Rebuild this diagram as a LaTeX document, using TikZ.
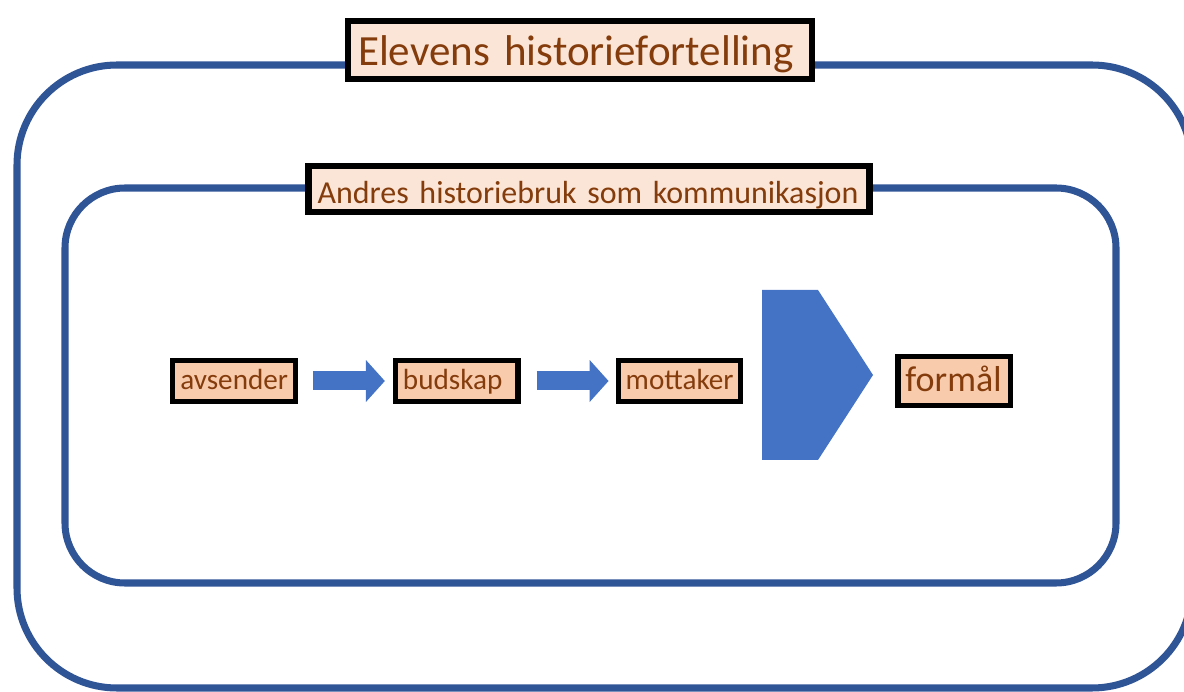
\documentclass[tikz,border=0pt]{standalone}
\usepackage{fontspec}
\setmainfont{Carlito}
\usetikzlibrary{positioning,arrows.meta}
\definecolor{frameblue}{HTML}{2F5597}
\definecolor{arrowblue}{HTML}{4472C4}
\definecolor{lightpeach}{HTML}{FBE5D6}
\definecolor{peach}{HTML}{F8CBAD}
\definecolor{textbrown}{HTML}{843C0C}
\begin{document}
\begin{tikzpicture}[x=0.02cm, y=-0.02cm, node distance=1.9cm,
    frame/.style={draw=frameblue, line width=4pt},
    labelbox/.style={draw=black, line width=3.5pt, fill=lightpeach, text=textbrown, inner ysep=0pt, align=left,
      text depth=0pt},
    word/.style={draw=black, line width=3pt, fill=peach, text=textbrown, inner ysep=0pt, inner xsep=0.15cm,
      text width=2.15cm, align=left, minimum height=0.81cm, text height=10.2pt, text depth=0pt,
      font=\fontsize{16.6}{18}\selectfont},
    blockarrow/.style={draw=arrowblue, line width=0.38cm, -{Triangle[length=0.38cm, width=0.82cm]}}]
  \useasboundingbox (0,0) rectangle (1184,692);
  % frames
  \draw[frame, rounded corners=2cm] (17,65) rectangle (1192,688);
  \draw[frame, rounded corners=1.2cm] (65,188) rectangle (1116,583);
  \node[labelbox, inner xsep=0.2cm, text width=8.88cm, minimum height=1.16cm, text height=17.6pt,
    font=\fontsize{24.5}{28}\selectfont] (title) at (580,50) {Elevens historiefortelling};
  \node[labelbox, inner xsep=0.18cm, text width=10.86cm, minimum height=0.92cm, text height=16pt,
    font=\fontsize{18.2}{22}\selectfont] (sub) at (589,189) {Andres historiebruk som kommunikasjon};
  % chain
  \node[word] (avs) at (234,381) {avsender};
  \node[word] (bud) [right=of avs] {budskap};
  \node[word] (mot) [right=of bud] {mottaker};
  \node[word, text width=1.95cm, minimum height=0.97cm, text height=11.4pt,
    font=\fontsize{20.5}{24}\selectfont] (form) [right=3.04cm of mot] {formål};
  \draw[blockarrow] ([xshift=0.3cm]avs.east) -- ([xshift=-0.16cm]bud.west);
  \draw[blockarrow] ([xshift=0.32cm]bud.east) -- ([xshift=-0.14cm]mot.west);
  \fill[arrowblue] (762,290) -- (818,290) -- (873,375) -- (818,460) -- (762,460) -- cycle;
\end{tikzpicture}
\end{document}
